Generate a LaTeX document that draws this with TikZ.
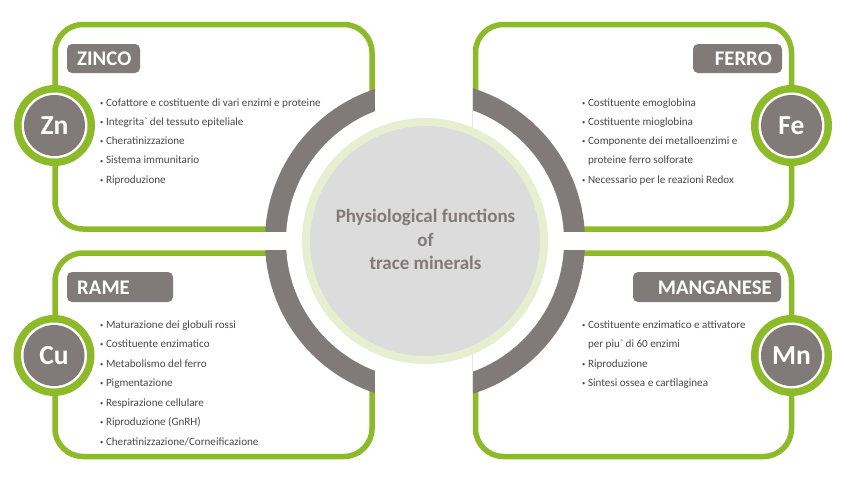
\documentclass[tikz,border=0pt]{standalone}
\usepackage{fontspec}
\setmainfont{Carlito}
\definecolor{grn}{RGB}{140,186,40}
\definecolor{gry}{RGB}{128,123,120}
\definecolor{lgry}{RGB}{220,220,220}
\definecolor{ring}{RGB}{232,238,208}
\definecolor{txt}{RGB}{72,72,72}
\newcommand\bl{\makebox[5.8pt][l]{\raisebox{0.8pt}{\fontsize{6.5}{6.5}\selectfont\textbullet}}}
\newcommand\ind{\hspace*{5.8pt}}
\tikzset{
  panel/.style={draw=grn, line width=5.5pt, fill=white, rounded corners=28pt},
  tag/.style={fill=gry, rounded corners=5pt},
  tagtext/.style={text=white, font=\fontsize{20.8}{20.8}\selectfont\bfseries, inner sep=0pt},
  sym/.style={text=white, font=\fontsize{27.5}{27.5}\selectfont\bfseries, inner sep=0pt},
  item/.style={text=txt, font=\fontsize{11.1}{13}\selectfont, inner sep=0pt, anchor=base west},
}
\begin{document}
\begin{tikzpicture}[x=1pt,y=-1pt]
\useasboundingbox (0,0) rectangle (859,480);
\fill[white] (0,0) rectangle (859,480);
\coordinate (c) at (425,241);
% panels
\draw[panel] (55,24.5) rectangle (372,229);
\draw[panel] (475.5,24.5) rectangle (791.5,229);
\draw[panel] (55,253) rectangle (372,456.5);
\draw[panel] (475.5,253) rectangle (791.5,456.5);
% gray arcs clipped to panels
\foreach \xa/\ya/\xb/\yb in {52.25/21.75/374.75/231.75, 472.75/21.75/794.25/231.75, 52.25/250.25/374.75/459.25, 472.75/250.25/794.25/459.25}{
  \begin{scope}
    \clip (\xa,\ya) rectangle (\xb,\yb);
    \fill[gry] (c) circle (160pt);
    \fill[white] (c) circle (139pt);
  \end{scope}
}
% center circle
\fill[lgry] (c) circle (119pt);
\draw[ring, line width=8pt] (c) circle (119pt);
\node[text=gry, font=\fontsize{19}{23.8}\selectfont\bfseries, align=center, inner sep=0pt] (title) at (425.5,239.5)
  {Physiological functions\\of\\trace minerals};
% tags
\fill[tag] (67,44) rectangle (140,73);
\node[tagtext, anchor=base west] (zinco) at (77,65.7) {ZINCO};
\fill[tag] (693,44) rectangle (782,73);
\node[tagtext, anchor=base east] (ferro) at (772,65.7) {FERRO};
\fill[tag] (67,272) rectangle (173,302);
\node[tagtext, anchor=base west] (rame) at (77,294.3) {RAME};
\fill[tag] (633,272) rectangle (781,302);
\node[tagtext, anchor=base east] (mang) at (772,294.3) {MANGANESE};
% element circles
\foreach \n/\x/\y/\s in {zn/54.5/125.5/Zn, fe/791.5/125.5/Fe, cu/54/355.5/Cu, mn/791.5/355.5/Mn}{
  \fill[grn] (\x,\y) circle (40.5pt);
  \fill[white] (\x,\y) circle (33pt);
  \fill[gry] (\x,\y) circle (30.5pt);
  \node[sym] (\n) at (\x,\y) {\s};
}
% items
\node[item] (zn1) at (100,106) {\bl Cofattore e costituente di vari enzimi e proteine};
\node[item] (zn2) at (100,125.3) {\bl Integrita\textasciigrave\ del tessuto epiteliale};
\node[item] (zn3) at (100,144.6) {\bl Cheratinizzazione};
\node[item] (zn4) at (100,163.9) {\bl Sistema immunitario};
\node[item] (zn5) at (100,183.2) {\bl Riproduzione};
\node[item] (fe1) at (582,106) {\bl Costituente emoglobina};
\node[item] (fe2) at (582,125.3) {\bl Costituente mioglobina};
\node[item] (fe3) at (582,144.6) {\bl Componente dei metalloenzimi e};
\node[item] (fe4) at (582,163.9) {\ind proteine ferro solforate};
\node[item] (fe5) at (582,183.2) {\bl Necessario per le reazioni Redox};
\node[item] (cu1) at (100,328) {\bl Maturazione dei globuli rossi};
\node[item] (cu2) at (100,347.5) {\bl Costituente enzimatico};
\node[item] (cu3) at (100,367) {\bl Metabolismo del ferro};
\node[item] (cu4) at (100,386.5) {\bl Pigmentazione};
\node[item] (cu5) at (100,406) {\bl Respirazione cellulare};
\node[item] (cu6) at (100,425.5) {\bl Riproduzione (GnRH)};
\node[item] (cu7) at (100,445) {\bl Cheratinizzazione/Corneificazione};
\node[item] (mn1) at (582,328) {\bl Costituente enzimatico e attivatore};
\node[item] (mn2) at (582,347.5) {\ind per piu\textasciigrave\ di 60 enzimi};
\node[item] (mn3) at (582,367) {\bl Riproduzione};
\node[item] (mn4) at (582,386.5) {\bl Sintesi ossea e cartilaginea};
\end{tikzpicture}
\end{document}
